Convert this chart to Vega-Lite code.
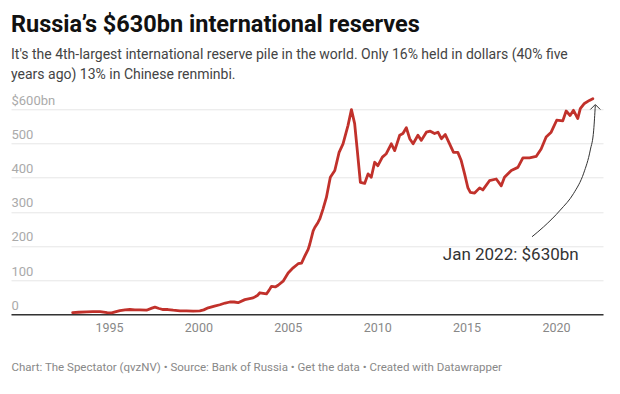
{
  "$schema": "https://vega.github.io/schema/vega-lite/v6.json",
  "width": 592,
  "height": 205,
  "autosize": {"type": "none"},
  "padding": {"left": 11, "top": 109.3, "right": 17, "bottom": 79.7},
  "background": "white",
  "title": {
    "text": "Russia’s $630bn international reserves",
    "subtitle": ["It's the 4th-largest international reserve pile in the world. Only 16% held in dollars (40% five", "years ago) 13% in Chinese renminbi."],
    "anchor": "start",
    "frame": "group",
    "font": "Roboto",
    "fontSize": 23.5,
    "fontWeight": 700,
    "color": "#111111",
    "subtitleFont": "Roboto",
    "subtitleFontSize": 14,
    "subtitleColor": "#444444",
    "subtitleLineHeight": 20,
    "subtitlePadding": 12,
    "offset": 12
  },
  "config": {"view": {"stroke": null}, "font": "Roboto"},
  "encoding": {
    "x": {
      "field": "year",
      "type": "quantitative",
      "scale": {"domain": [1989.52, 2022.63], "nice": false, "zero": false},
      "axis": {
        "values": [1995, 2000, 2005, 2010, 2015, 2020],
        "format": "d",
        "labelColor": "#888888",
        "labelFontSize": 12.5,
        "labelFont": "Roboto",
        "labelPadding": 7,
        "ticks": false,
        "tickSize": 0,
        "grid": false,
        "domain": true,
        "domainColor": "#333333",
        "domainWidth": 1.5,
        "title": "Chart: The Spectator (qvzNV) • Source: Bank of Russia • Get the data • Created with Datawrapper",
        "titleAnchor": "start",
        "titleAlign": "left",
        "titleFont": "Roboto",
        "titleFontSize": 11.5,
        "titleFontWeight": "normal",
        "titleColor": "#888888",
        "titlePadding": 28
      }
    },
    "y": {
      "field": "value",
      "type": "quantitative",
      "scale": {"domain": [0, 600], "nice": false},
      "axis": {
        "values": [0, 100, 200, 300, 400, 500, 600],
        "labelExpr": "datum.value == 600 ? '$600bn' : datum.label",
        "labelAlign": "left",
        "labelBaseline": "alphabetic",
        "labelOffset": -5,
        "labelPadding": 0,
        "ticks": false,
        "tickSize": 0,
        "domain": false,
        "grid": true,
        "gridColor": "#e6e6e6",
        "gridWidth": 1,
        "labelColor": "#aaaaaa",
        "labelFontSize": 13,
        "labelFont": "Roboto",
        "title": null
      }
    }
  },
  "layer": [
    {
      "data": {"values": [
        {"year": 1992.97, "value": 5}, {"year": 1993.3, "value": 6}, {"year": 1993.75, "value": 7},
        {"year": 1994.1, "value": 8}, {"year": 1994.5, "value": 8}, {"year": 1994.9, "value": 5},
        {"year": 1995.15, "value": 4}, {"year": 1995.4, "value": 8}, {"year": 1995.61, "value": 11},
        {"year": 1995.9, "value": 13}, {"year": 1996.17, "value": 14}, {"year": 1996.45, "value": 13},
        {"year": 1996.73, "value": 13}, {"year": 1997.1, "value": 12}, {"year": 1997.4, "value": 18},
        {"year": 1997.57, "value": 21}, {"year": 1997.8, "value": 17}, {"year": 1998.03, "value": 14},
        {"year": 1998.3, "value": 14}, {"year": 1998.59, "value": 12}, {"year": 1998.97, "value": 10},
        {"year": 1999.34, "value": 10}, {"year": 1999.7, "value": 9}, {"year": 2000.08, "value": 10},
        {"year": 2000.3, "value": 13}, {"year": 2000.55, "value": 19}, {"year": 2000.9, "value": 24},
        {"year": 2001.2, "value": 28}, {"year": 2001.5, "value": 33}, {"year": 2001.76, "value": 36},
        {"year": 2002.0, "value": 36}, {"year": 2002.22, "value": 34}, {"year": 2002.6, "value": 43},
        {"year": 2003.06, "value": 48}, {"year": 2003.3, "value": 55}, {"year": 2003.44, "value": 63},
        {"year": 2003.81, "value": 60}, {"year": 2003.95, "value": 70}, {"year": 2004.09, "value": 82},
        {"year": 2004.3, "value": 80}, {"year": 2004.46, "value": 85}, {"year": 2004.74, "value": 97},
        {"year": 2005.02, "value": 121}, {"year": 2005.3, "value": 136}, {"year": 2005.58, "value": 148},
        {"year": 2005.77, "value": 150}, {"year": 2005.95, "value": 170}, {"year": 2006.14, "value": 190},
        {"year": 2006.23, "value": 205}, {"year": 2006.42, "value": 244}, {"year": 2006.51, "value": 254},
        {"year": 2006.69, "value": 269}, {"year": 2006.79, "value": 279}, {"year": 2006.97, "value": 308},
        {"year": 2007.16, "value": 342}, {"year": 2007.3, "value": 380}, {"year": 2007.38, "value": 401},
        {"year": 2007.63, "value": 421}, {"year": 2007.87, "value": 474}, {"year": 2008.09, "value": 499},
        {"year": 2008.37, "value": 553}, {"year": 2008.56, "value": 599}, {"year": 2008.74, "value": 558},
        {"year": 2008.87, "value": 489}, {"year": 2009.06, "value": 386}, {"year": 2009.3, "value": 383},
        {"year": 2009.49, "value": 411}, {"year": 2009.67, "value": 401}, {"year": 2009.86, "value": 445},
        {"year": 2010.04, "value": 435}, {"year": 2010.29, "value": 460}, {"year": 2010.51, "value": 470},
        {"year": 2010.79, "value": 499}, {"year": 2010.98, "value": 479}, {"year": 2011.26, "value": 524},
        {"year": 2011.44, "value": 529}, {"year": 2011.63, "value": 546}, {"year": 2011.82, "value": 514},
        {"year": 2012.01, "value": 499}, {"year": 2012.28, "value": 524}, {"year": 2012.47, "value": 509},
        {"year": 2012.75, "value": 533}, {"year": 2012.97, "value": 536}, {"year": 2013.21, "value": 529},
        {"year": 2013.4, "value": 533}, {"year": 2013.59, "value": 514}, {"year": 2013.81, "value": 526},
        {"year": 2014.05, "value": 499}, {"year": 2014.27, "value": 474}, {"year": 2014.51, "value": 474},
        {"year": 2014.7, "value": 450}, {"year": 2014.89, "value": 411}, {"year": 2015.07, "value": 371},
        {"year": 2015.21, "value": 357}, {"year": 2015.45, "value": 355}, {"year": 2015.73, "value": 370},
        {"year": 2015.91, "value": 364}, {"year": 2016.28, "value": 391}, {"year": 2016.66, "value": 396},
        {"year": 2016.94, "value": 376}, {"year": 2017.12, "value": 401}, {"year": 2017.5, "value": 421},
        {"year": 2017.87, "value": 430}, {"year": 2018.15, "value": 458}, {"year": 2018.52, "value": 458},
        {"year": 2018.89, "value": 462}, {"year": 2019.17, "value": 484}, {"year": 2019.45, "value": 519},
        {"year": 2019.73, "value": 533}, {"year": 2020.04, "value": 568}, {"year": 2020.38, "value": 566},
        {"year": 2020.57, "value": 595}, {"year": 2020.79, "value": 582}, {"year": 2020.98, "value": 597},
        {"year": 2021.22, "value": 573}, {"year": 2021.36, "value": 602}, {"year": 2021.59, "value": 617},
        {"year": 2021.87, "value": 626}, {"year": 2022.06, "value": 631}
      ]},
      "mark": {"type": "line", "color": "#c1312b", "strokeWidth": 2.8, "strokeJoin": "round", "strokeCap": "round"}
    },
    {
      "data": {"values": [
        {"year": 2018.66, "value": 227}, {"year": 2019.31, "value": 256}, {"year": 2020.24, "value": 305},
        {"year": 2020.99, "value": 354}, {"year": 2021.55, "value": 413}, {"year": 2021.92, "value": 481},
        {"year": 2022.11, "value": 539}, {"year": 2022.2, "value": 612}
      ]},
      "mark": {"type": "line", "color": "#333333", "strokeWidth": 1, "interpolate": "monotone"}
    },
    {
      "data": {"values": [{"year": 2022.2, "value": 614}]},
      "mark": {"type": "point", "shape": "M-1,1L0,0L1,1", "size": 100, "filled": false, "stroke": "#333333", "strokeWidth": 1, "opacity": 1}
    },
    {
      "data": {"values": [{"year": 2017.47, "value": 160, "label": "Jan 2022: $630bn"}]},
      "mark": {"type": "text", "font": "Roboto", "fontSize": 17, "color": "#333333", "align": "center", "baseline": "alphabetic"},
      "encoding": {"text": {"field": "label"}}
    }
  ]
}
